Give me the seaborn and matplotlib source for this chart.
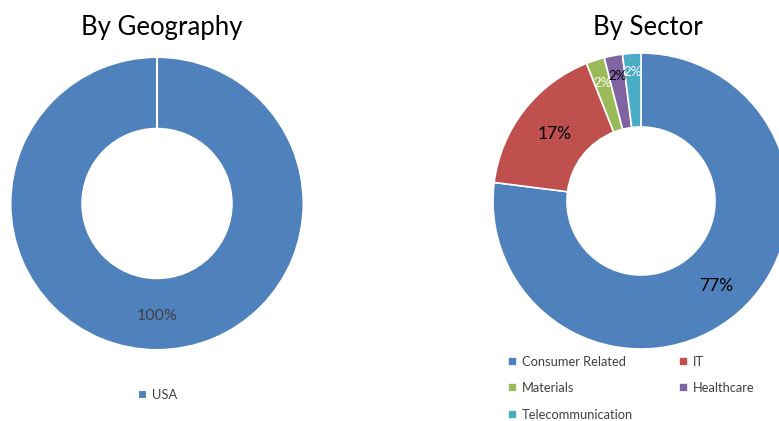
import numpy as np
import matplotlib
matplotlib.use("Agg")
import matplotlib.pyplot as plt
import seaborn as sns

geo_labels = ["USA"]
geo_values = [100]

sector_labels = ["Consumer Related", "IT", "Materials", "Healthcare", "Telecommunication"]
sector_values = [77, 17, 2, 2, 2]

sector_colors = ["#4F81BD", "#C0504D", "#9BBB59", "#8064A2", "#4BACC6"]
label_colors = ["#000000", "#000000", "#FFFFFF", "#000000", "#FFFFFF"]
label_sizes = [12.5, 12.5, 9.5, 9.5, 9.5]
label_radius = [0.77, 0.74, 0.84, 0.86, 0.87]

sns.set_theme(style="white")
plt.rcParams["font.family"] = ["Lato", "DejaVu Sans"]

W, H = 779, 421
fig = plt.figure(figsize=(W / 100, H / 100), dpi=100)


def donut_axes(cx, cy, half):
    # pixel box (top-left origin) -> figure fraction
    return fig.add_axes([(cx - half) / W, (H - cy - half) / H, 2 * half / W, 2 * half / H])


def label_wedges(ax, wedges, values, radii, colors, sizes, r):
    for w, v, rr, c, s in zip(wedges, values, radii, colors, sizes):
        mid = np.deg2rad((w.theta1 + w.theta2) / 2)
        ax.text(rr * r * np.cos(mid), rr * r * np.sin(mid), f"{v:.0f}%",
                ha="center", va="center", color=c, fontsize=s)


# By Geography
ax1 = donut_axes(157, 203.5, 150)
r1 = 146.5 / 150
w1, _ = ax1.pie(geo_values, colors=sector_colors[:1], startangle=90, counterclock=False,
                radius=r1, wedgeprops=dict(width=r1 * 0.49, edgecolor="white", linewidth=1.5))
ax1.plot([0, 0], [r1 * 0.51, r1], color="white", lw=1.5)
label_wedges(ax1, w1, geo_values, [0.77], ["#404040"], [11.5], r1)
ax1.set_xlim(-1, 1)
ax1.set_ylim(-1, 1)
ax1.set_aspect("equal")
ax1.axis("off")
fig.text(162 / W, 1 - 28 / H, "By Geography", ha="center", va="center", fontsize=18.5, color="#000000")

# By Sector
ax2 = donut_axes(641, 201, 155)
r2 = 148 / 155
w2, _ = ax2.pie(sector_values, colors=sector_colors, startangle=90, counterclock=False,
                radius=r2, wedgeprops=dict(width=r2 * 0.5, edgecolor="white", linewidth=1.2))
label_wedges(ax2, w2, sector_values, label_radius, label_colors, label_sizes, r2)
ax2.set_xlim(-1, 1)
ax2.set_ylim(-1, 1)
ax2.set_aspect("equal")
ax2.axis("off")
fig.text(648 / W, 1 - 28 / H, "By Sector", ha="center", va="center", fontsize=18.5, color="#000000")

# legends (row-wise order for two columns)
leg_kw = dict(frameon=False, handlelength=0.7, handleheight=0.7, handletextpad=0.4,
              fontsize=9.3, labelcolor="#404040", borderpad=0, borderaxespad=0)
fig.legend(w1, geo_labels, loc="center", bbox_to_anchor=(158 / W, 1 - 395 / H), **leg_kw)
order = [0, 2, 4, 1, 3]
fig.legend([w2[i] for i in order], [sector_labels[i] for i in order],
           loc="upper left", bbox_to_anchor=(508 / W, 1 - 356 / H),
           ncol=2, columnspacing=3.5, labelspacing=1.12, **leg_kw)

fig.savefig("out.png", dpi=100)
